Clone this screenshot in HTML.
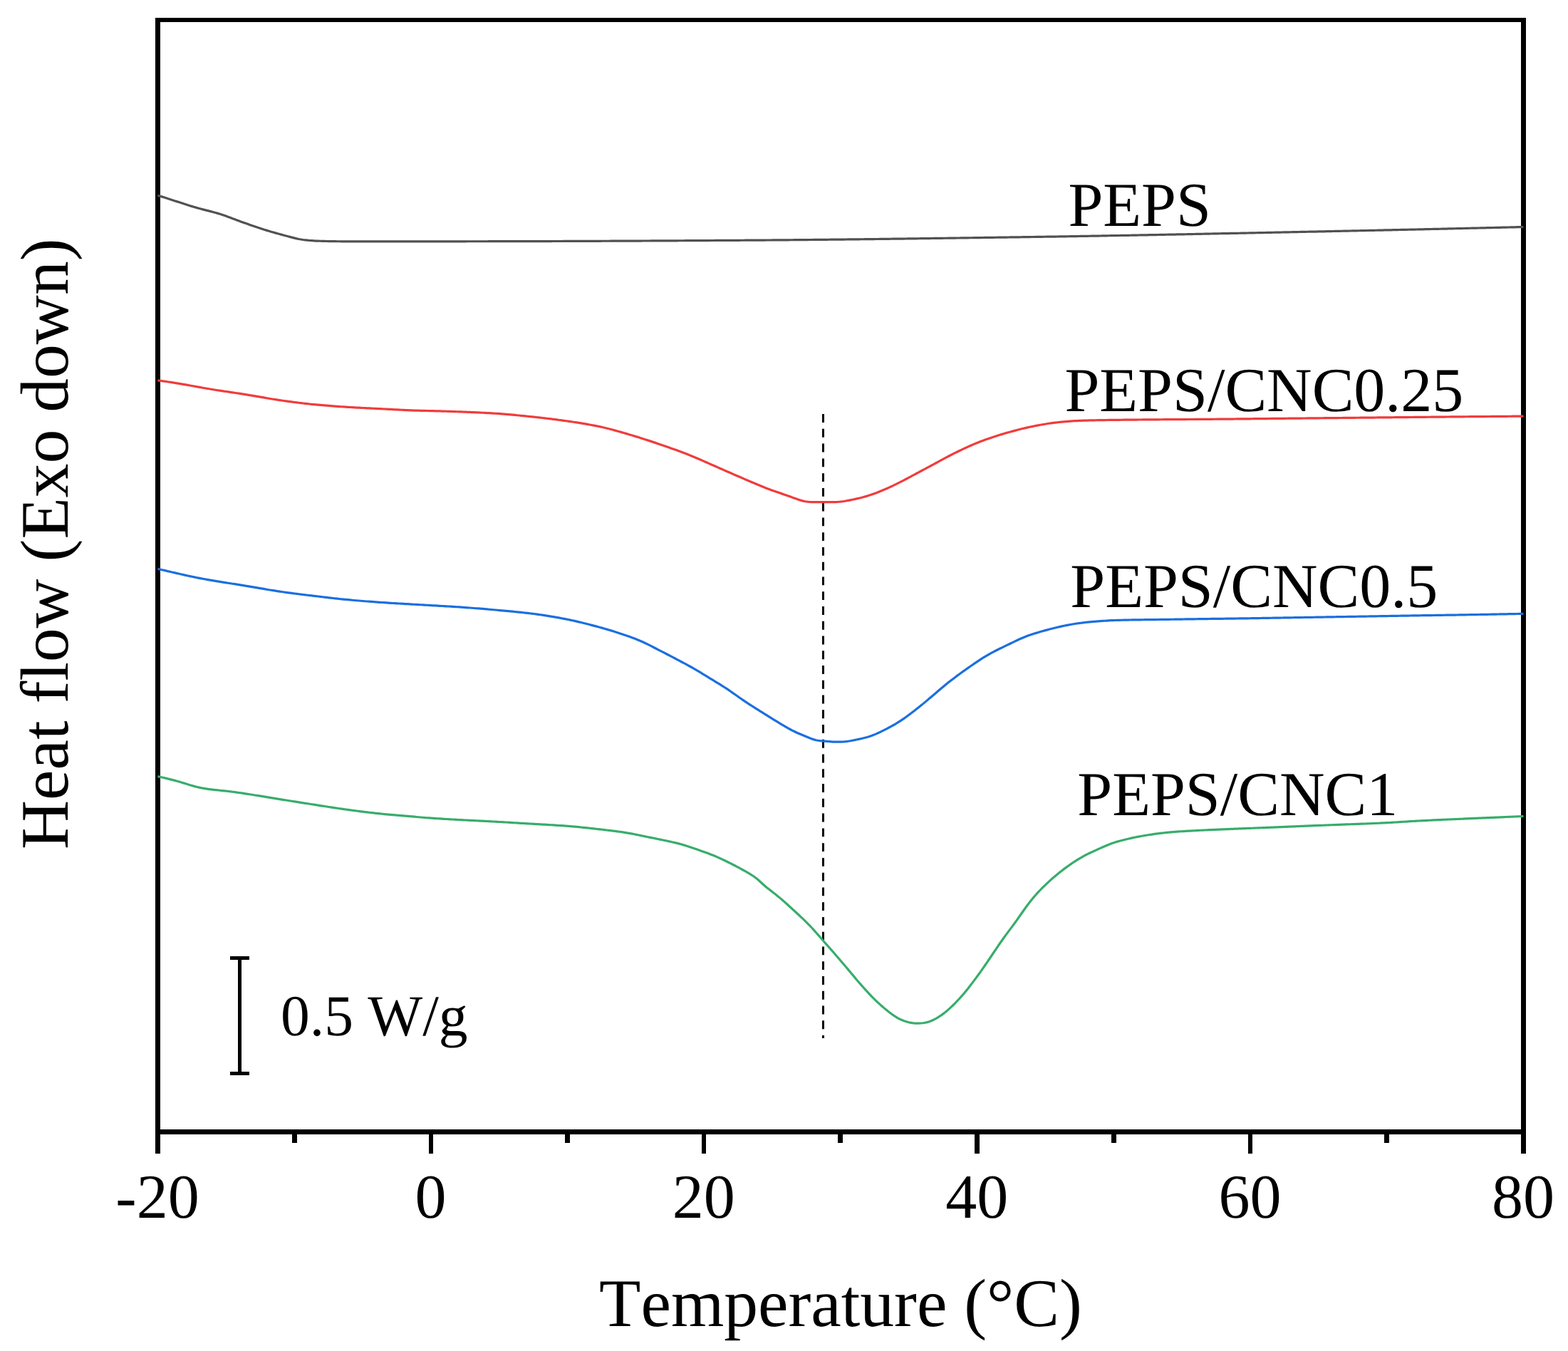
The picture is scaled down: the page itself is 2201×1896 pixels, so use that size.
<!DOCTYPE html>
<html lang="en">
<head>
<meta charset="utf-8">
<title>DSC heat flow curves</title>
<style>
html,body{margin:0;padding:0;background:#fff;}
body{width:2201px;height:1896px;overflow:hidden;}
svg{display:block;}
text{font-family:"Liberation Serif", "DejaVu Serif", serif;fill:#000;font-kerning:none;font-variant-ligatures:none;font-feature-settings:"kern" 0,"liga" 0,"clig" 0;text-rendering:geometricPrecision;}
.tick{font-size:88px;text-anchor:middle;}
.lab{font-size:88px;}
.axis{font-size:95.6px;text-anchor:middle;}
.scale{font-size:81.5px;}
</style>
</head>
<body>
<svg xmlns="http://www.w3.org/2000/svg" width="2201" height="1896" viewBox="0 0 2201 1896">
<rect x="0" y="0" width="2201" height="1896" fill="#ffffff"/>
<g fill="#000" shape-rendering="crispEdges">
<rect x="218" y="25" width="7" height="1567"/>
<rect x="2135" y="25" width="7" height="1567"/>
<rect x="218" y="25" width="1924" height="6"/>
<rect x="218" y="1585" width="1924" height="7"/>
<rect x="218" y="1590" width="7" height="29"/>
<rect x="410" y="1590" width="7" height="14"/>
<rect x="602" y="1590" width="6" height="29"/>
<rect x="793" y="1590" width="7" height="14"/>
<rect x="985" y="1590" width="6" height="29"/>
<rect x="1176" y="1590" width="7" height="14"/>
<rect x="1368" y="1590" width="7" height="29"/>
<rect x="1560" y="1590" width="7" height="14"/>
<rect x="1752" y="1590" width="6" height="29"/>
<rect x="1943" y="1590" width="7" height="14"/>
<rect x="2135" y="1590" width="7" height="29"/>
<rect x="334" y="1342" width="5" height="167"/>
<rect x="323" y="1342" width="27" height="5"/>
<rect x="323" y="1504" width="27" height="5"/>
</g>
<line x1="1155.5" y1="581.1" x2="1155.5" y2="1457" stroke="#000" stroke-width="3" stroke-dasharray="11.9 8.86"/>
<path d="M221.5,274.20 L224.5,275.17 L227.5,276.13 L230.5,277.10 L233.5,278.07 L236.5,279.03 L239.5,279.99 L242.5,280.95 L245.5,281.91 L248.5,282.87 L251.5,283.84 L254.5,284.81 L257.5,285.78 L260.5,286.75 L263.5,287.72 L266.5,288.67 L269.5,289.60 L272.5,290.51 L275.5,291.39 L278.5,292.24 L281.5,293.05 L284.5,293.83 L287.5,294.60 L290.5,295.35 L293.5,296.11 L296.5,296.88 L299.5,297.68 L302.5,298.51 L305.5,299.38 L308.5,300.31 L311.5,301.28 L314.5,302.30 L317.5,303.36 L320.5,304.44 L323.5,305.55 L326.5,306.67 L329.5,307.80 L332.5,308.93 L335.5,310.05 L338.5,311.16 L341.5,312.25 L344.5,313.31 L347.5,314.36 L350.5,315.41 L353.5,316.44 L356.5,317.47 L359.5,318.49 L362.5,319.50 L365.5,320.49 L368.5,321.47 L371.5,322.43 L374.5,323.37 L377.5,324.28 L380.5,325.17 L383.5,326.05 L386.5,326.90 L389.5,327.74 L392.5,328.57 L395.5,329.38 L398.5,330.19 L401.5,330.99 L404.5,331.79 L407.5,332.60 L410.5,333.40 L413.5,334.16 L416.5,334.87 L419.5,335.49 L422.5,336.02 L425.5,336.47 L428.5,336.85 L431.5,337.19 L434.5,337.47 L437.5,337.70 L440.5,337.89 L443.5,338.03 L446.5,338.15 L449.5,338.25 L452.5,338.34 L455.5,338.42 L458.5,338.49 L461.5,338.56 L464.5,338.62 L467.5,338.67 L470.5,338.71 L473.5,338.74 L476.5,338.77 L479.5,338.79 L482.5,338.80 L485.5,338.82 L488.5,338.83 L491.5,338.84 L494.5,338.85 L497.5,338.85 L500.5,338.86 L503.5,338.87 L506.5,338.88 L509.5,338.88 L512.5,338.89 L515.5,338.89 L518.5,338.89 L521.5,338.90 L524.5,338.90 L527.5,338.90 L530.5,338.90 L533.5,338.90 L536.5,338.90 L539.5,338.90 L542.5,338.90 L545.5,338.90 L548.5,338.90 L551.5,338.90 L554.5,338.89 L557.5,338.89 L560.5,338.89 L563.5,338.89 L566.5,338.89 L569.5,338.88 L572.5,338.88 L575.5,338.88 L578.5,338.88 L581.5,338.87 L584.5,338.87 L587.5,338.87 L590.5,338.87 L593.5,338.86 L596.5,338.86 L599.5,338.86 L602.5,338.85 L605.5,338.85 L608.5,338.85 L611.5,338.84 L614.5,338.84 L617.5,338.83 L620.5,338.83 L623.5,338.83 L626.5,338.82 L629.5,338.82 L632.5,338.81 L635.5,338.81 L638.5,338.80 L641.5,338.80 L644.5,338.79 L647.5,338.79 L650.5,338.78 L653.5,338.78 L656.5,338.77 L659.5,338.77 L662.5,338.76 L665.5,338.76 L668.5,338.75 L671.5,338.75 L674.5,338.74 L677.5,338.74 L680.5,338.73 L683.5,338.73 L686.5,338.72 L689.5,338.72 L692.5,338.71 L695.5,338.71 L698.5,338.70 L701.5,338.70 L704.5,338.69 L707.5,338.69 L710.5,338.68 L713.5,338.67 L716.5,338.67 L719.5,338.66 L722.5,338.66 L725.5,338.65 L728.5,338.64 L731.5,338.64 L734.5,338.63 L737.5,338.62 L740.5,338.62 L743.5,338.61 L746.5,338.60 L749.5,338.59 L752.5,338.58 L755.5,338.58 L758.5,338.57 L761.5,338.56 L764.5,338.55 L767.5,338.54 L770.5,338.53 L773.5,338.53 L776.5,338.52 L779.5,338.51 L782.5,338.50 L785.5,338.49 L788.5,338.48 L791.5,338.47 L794.5,338.46 L797.5,338.45 L800.5,338.44 L803.5,338.43 L806.5,338.42 L809.5,338.41 L812.5,338.40 L815.5,338.39 L818.5,338.38 L821.5,338.36 L824.5,338.35 L827.5,338.34 L830.5,338.33 L833.5,338.32 L836.5,338.31 L839.5,338.30 L842.5,338.28 L845.5,338.27 L848.5,338.26 L851.5,338.25 L854.5,338.23 L857.5,338.22 L860.5,338.21 L863.5,338.20 L866.5,338.18 L869.5,338.17 L872.5,338.16 L875.5,338.14 L878.5,338.13 L881.5,338.12 L884.5,338.10 L887.5,338.09 L890.5,338.08 L893.5,338.06 L896.5,338.05 L899.5,338.03 L902.5,338.02 L905.5,338.00 L908.5,337.99 L911.5,337.98 L914.5,337.96 L917.5,337.95 L920.5,337.93 L923.5,337.92 L926.5,337.90 L929.5,337.89 L932.5,337.87 L935.5,337.86 L938.5,337.84 L941.5,337.82 L944.5,337.81 L947.5,337.79 L950.5,337.78 L953.5,337.76 L956.5,337.74 L959.5,337.73 L962.5,337.71 L965.5,337.70 L968.5,337.68 L971.5,337.66 L974.5,337.65 L977.5,337.63 L980.5,337.61 L983.5,337.60 L986.5,337.58 L989.5,337.56 L992.5,337.54 L995.5,337.53 L998.5,337.51 L1001.5,337.49 L1004.5,337.47 L1007.5,337.46 L1010.5,337.44 L1013.5,337.42 L1016.5,337.40 L1019.5,337.39 L1022.5,337.37 L1025.5,337.35 L1028.5,337.33 L1031.5,337.31 L1034.5,337.30 L1037.5,337.28 L1040.5,337.26 L1043.5,337.24 L1046.5,337.22 L1049.5,337.20 L1052.5,337.18 L1055.5,337.16 L1058.5,337.15 L1061.5,337.13 L1064.5,337.11 L1067.5,337.08 L1070.5,337.06 L1073.5,337.04 L1076.5,337.02 L1079.5,337.00 L1082.5,336.98 L1085.5,336.95 L1088.5,336.93 L1091.5,336.91 L1094.5,336.88 L1097.5,336.86 L1100.5,336.83 L1103.5,336.81 L1106.5,336.78 L1109.5,336.76 L1112.5,336.73 L1115.5,336.71 L1118.5,336.68 L1121.5,336.65 L1124.5,336.63 L1127.5,336.60 L1130.5,336.57 L1133.5,336.55 L1136.5,336.52 L1139.5,336.49 L1142.5,336.46 L1145.5,336.43 L1148.5,336.40 L1151.5,336.37 L1154.5,336.34 L1157.5,336.31 L1160.5,336.28 L1163.5,336.25 L1166.5,336.22 L1169.5,336.19 L1172.5,336.16 L1175.5,336.13 L1178.5,336.09 L1181.5,336.06 L1184.5,336.03 L1187.5,336.00 L1190.5,335.96 L1193.5,335.93 L1196.5,335.90 L1199.5,335.86 L1202.5,335.83 L1205.5,335.79 L1208.5,335.76 L1211.5,335.73 L1214.5,335.69 L1217.5,335.66 L1220.5,335.62 L1223.5,335.58 L1226.5,335.55 L1229.5,335.51 L1232.5,335.48 L1235.5,335.44 L1238.5,335.40 L1241.5,335.37 L1244.5,335.33 L1247.5,335.29 L1250.5,335.26 L1253.5,335.22 L1256.5,335.18 L1259.5,335.14 L1262.5,335.10 L1265.5,335.07 L1268.5,335.03 L1271.5,334.99 L1274.5,334.95 L1277.5,334.91 L1280.5,334.87 L1283.5,334.83 L1286.5,334.79 L1289.5,334.76 L1292.5,334.72 L1295.5,334.68 L1298.5,334.64 L1301.5,334.60 L1304.5,334.56 L1307.5,334.52 L1310.5,334.47 L1313.5,334.43 L1316.5,334.39 L1319.5,334.35 L1322.5,334.31 L1325.5,334.27 L1328.5,334.23 L1331.5,334.19 L1334.5,334.15 L1337.5,334.11 L1340.5,334.06 L1343.5,334.02 L1346.5,333.98 L1349.5,333.94 L1352.5,333.90 L1355.5,333.85 L1358.5,333.81 L1361.5,333.77 L1364.5,333.73 L1367.5,333.69 L1370.5,333.64 L1373.5,333.60 L1376.5,333.56 L1379.5,333.51 L1382.5,333.47 L1385.5,333.43 L1388.5,333.39 L1391.5,333.34 L1394.5,333.30 L1397.5,333.26 L1400.5,333.21 L1403.5,333.17 L1406.5,333.13 L1409.5,333.09 L1412.5,333.04 L1415.5,333.00 L1418.5,332.96 L1421.5,332.91 L1424.5,332.87 L1427.5,332.83 L1430.5,332.78 L1433.5,332.74 L1436.5,332.70 L1439.5,332.65 L1442.5,332.61 L1445.5,332.57 L1448.5,332.52 L1451.5,332.48 L1454.5,332.43 L1457.5,332.39 L1460.5,332.35 L1463.5,332.30 L1466.5,332.26 L1469.5,332.21 L1472.5,332.16 L1475.5,332.12 L1478.5,332.07 L1481.5,332.03 L1484.5,331.98 L1487.5,331.93 L1490.5,331.88 L1493.5,331.84 L1496.5,331.79 L1499.5,331.74 L1502.5,331.69 L1505.5,331.64 L1508.5,331.59 L1511.5,331.54 L1514.5,331.49 L1517.5,331.44 L1520.5,331.39 L1523.5,331.34 L1526.5,331.29 L1529.5,331.24 L1532.5,331.19 L1535.5,331.14 L1538.5,331.09 L1541.5,331.03 L1544.5,330.98 L1547.5,330.93 L1550.5,330.88 L1553.5,330.82 L1556.5,330.77 L1559.5,330.72 L1562.5,330.66 L1565.5,330.61 L1568.5,330.56 L1571.5,330.50 L1574.5,330.45 L1577.5,330.39 L1580.5,330.34 L1583.5,330.28 L1586.5,330.23 L1589.5,330.17 L1592.5,330.12 L1595.5,330.06 L1598.5,330.00 L1601.5,329.95 L1604.5,329.89 L1607.5,329.83 L1610.5,329.78 L1613.5,329.72 L1616.5,329.66 L1619.5,329.61 L1622.5,329.55 L1625.5,329.49 L1628.5,329.43 L1631.5,329.38 L1634.5,329.32 L1637.5,329.26 L1640.5,329.20 L1643.5,329.14 L1646.5,329.09 L1649.5,329.03 L1652.5,328.97 L1655.5,328.91 L1658.5,328.85 L1661.5,328.79 L1664.5,328.73 L1667.5,328.67 L1670.5,328.61 L1673.5,328.55 L1676.5,328.49 L1679.5,328.43 L1682.5,328.37 L1685.5,328.32 L1688.5,328.26 L1691.5,328.20 L1694.5,328.14 L1697.5,328.07 L1700.5,328.01 L1703.5,327.95 L1706.5,327.89 L1709.5,327.83 L1712.5,327.77 L1715.5,327.71 L1718.5,327.65 L1721.5,327.59 L1724.5,327.53 L1727.5,327.47 L1730.5,327.41 L1733.5,327.35 L1736.5,327.29 L1739.5,327.23 L1742.5,327.17 L1745.5,327.11 L1748.5,327.04 L1751.5,326.98 L1754.5,326.92 L1757.5,326.86 L1760.5,326.80 L1763.5,326.74 L1766.5,326.68 L1769.5,326.62 L1772.5,326.56 L1775.5,326.50 L1778.5,326.44 L1781.5,326.37 L1784.5,326.31 L1787.5,326.25 L1790.5,326.19 L1793.5,326.13 L1796.5,326.07 L1799.5,326.01 L1802.5,325.95 L1805.5,325.89 L1808.5,325.83 L1811.5,325.77 L1814.5,325.71 L1817.5,325.64 L1820.5,325.58 L1823.5,325.52 L1826.5,325.46 L1829.5,325.40 L1832.5,325.34 L1835.5,325.27 L1838.5,325.21 L1841.5,325.15 L1844.5,325.09 L1847.5,325.03 L1850.5,324.96 L1853.5,324.90 L1856.5,324.84 L1859.5,324.78 L1862.5,324.71 L1865.5,324.65 L1868.5,324.59 L1871.5,324.52 L1874.5,324.46 L1877.5,324.40 L1880.5,324.33 L1883.5,324.27 L1886.5,324.21 L1889.5,324.14 L1892.5,324.08 L1895.5,324.01 L1898.5,323.95 L1901.5,323.89 L1904.5,323.82 L1907.5,323.76 L1910.5,323.69 L1913.5,323.63 L1916.5,323.56 L1919.5,323.50 L1922.5,323.43 L1925.5,323.37 L1928.5,323.30 L1931.5,323.24 L1934.5,323.17 L1937.5,323.11 L1940.5,323.04 L1943.5,322.97 L1946.5,322.91 L1949.5,322.84 L1952.5,322.78 L1955.5,322.71 L1958.5,322.64 L1961.5,322.58 L1964.5,322.51 L1967.5,322.45 L1970.5,322.38 L1973.5,322.31 L1976.5,322.25 L1979.5,322.18 L1982.5,322.11 L1985.5,322.04 L1988.5,321.98 L1991.5,321.91 L1994.5,321.84 L1997.5,321.78 L2000.5,321.71 L2003.5,321.64 L2006.5,321.57 L2009.5,321.50 L2012.5,321.44 L2015.5,321.37 L2018.5,321.30 L2021.5,321.23 L2024.5,321.16 L2027.5,321.10 L2030.5,321.03 L2033.5,320.96 L2036.5,320.89 L2039.5,320.82 L2042.5,320.75 L2045.5,320.68 L2048.5,320.61 L2051.5,320.54 L2054.5,320.48 L2057.5,320.41 L2060.5,320.34 L2063.5,320.27 L2066.5,320.20 L2069.5,320.13 L2072.5,320.06 L2075.5,319.99 L2078.5,319.92 L2081.5,319.85 L2084.5,319.78 L2087.5,319.71 L2090.5,319.64 L2093.5,319.57 L2096.5,319.50 L2099.5,319.43 L2102.5,319.35 L2105.5,319.28 L2108.5,319.21 L2111.5,319.14 L2114.5,319.07 L2117.5,319.00 L2120.5,318.93 L2123.5,318.86 L2126.5,318.79 L2129.5,318.71 L2132.5,318.64 L2135.5,318.57 L2138.5,318.50" fill="none" stroke="#515151" stroke-width="3.2" stroke-linejoin="round" stroke-linecap="butt"/>
<path d="M221.5,533.80 L224.5,534.23 L227.5,534.66 L230.5,535.09 L233.5,535.53 L236.5,535.98 L239.5,536.43 L242.5,536.90 L245.5,537.37 L248.5,537.85 L251.5,538.34 L254.5,538.84 L257.5,539.36 L260.5,539.89 L263.5,540.42 L266.5,540.96 L269.5,541.51 L272.5,542.05 L275.5,542.60 L278.5,543.15 L281.5,543.69 L284.5,544.23 L287.5,544.76 L290.5,545.28 L293.5,545.79 L296.5,546.28 L299.5,546.77 L302.5,547.24 L305.5,547.71 L308.5,548.17 L311.5,548.62 L314.5,549.07 L317.5,549.51 L320.5,549.95 L323.5,550.39 L326.5,550.83 L329.5,551.27 L332.5,551.72 L335.5,552.17 L338.5,552.63 L341.5,553.09 L344.5,553.57 L347.5,554.05 L350.5,554.55 L353.5,555.05 L356.5,555.57 L359.5,556.09 L362.5,556.61 L365.5,557.14 L368.5,557.66 L371.5,558.19 L374.5,558.71 L377.5,559.22 L380.5,559.72 L383.5,560.21 L386.5,560.69 L389.5,561.15 L392.5,561.60 L395.5,562.03 L398.5,562.46 L401.5,562.88 L404.5,563.29 L407.5,563.70 L410.5,564.11 L413.5,564.50 L416.5,564.89 L419.5,565.27 L422.5,565.63 L425.5,565.99 L428.5,566.34 L431.5,566.68 L434.5,567.00 L437.5,567.31 L440.5,567.61 L443.5,567.89 L446.5,568.17 L449.5,568.44 L452.5,568.70 L455.5,568.95 L458.5,569.20 L461.5,569.44 L464.5,569.67 L467.5,569.89 L470.5,570.12 L473.5,570.33 L476.5,570.54 L479.5,570.74 L482.5,570.94 L485.5,571.14 L488.5,571.32 L491.5,571.51 L494.5,571.69 L497.5,571.86 L500.5,572.03 L503.5,572.19 L506.5,572.35 L509.5,572.51 L512.5,572.66 L515.5,572.81 L518.5,572.96 L521.5,573.11 L524.5,573.25 L527.5,573.40 L530.5,573.54 L533.5,573.69 L536.5,573.84 L539.5,573.99 L542.5,574.14 L545.5,574.30 L548.5,574.46 L551.5,574.62 L554.5,574.78 L557.5,574.94 L560.5,575.10 L563.5,575.26 L566.5,575.41 L569.5,575.55 L572.5,575.69 L575.5,575.81 L578.5,575.93 L581.5,576.04 L584.5,576.14 L587.5,576.22 L590.5,576.29 L593.5,576.36 L596.5,576.43 L599.5,576.50 L602.5,576.57 L605.5,576.64 L608.5,576.72 L611.5,576.80 L614.5,576.89 L617.5,576.97 L620.5,577.06 L623.5,577.15 L626.5,577.25 L629.5,577.34 L632.5,577.44 L635.5,577.54 L638.5,577.65 L641.5,577.75 L644.5,577.86 L647.5,577.97 L650.5,578.09 L653.5,578.20 L656.5,578.32 L659.5,578.44 L662.5,578.57 L665.5,578.70 L668.5,578.83 L671.5,578.96 L674.5,579.11 L677.5,579.25 L680.5,579.40 L683.5,579.56 L686.5,579.72 L689.5,579.89 L692.5,580.07 L695.5,580.25 L698.5,580.45 L701.5,580.65 L704.5,580.88 L707.5,581.11 L710.5,581.35 L713.5,581.61 L716.5,581.88 L719.5,582.16 L722.5,582.44 L725.5,582.73 L728.5,583.03 L731.5,583.33 L734.5,583.64 L737.5,583.94 L740.5,584.26 L743.5,584.57 L746.5,584.88 L749.5,585.20 L752.5,585.52 L755.5,585.85 L758.5,586.18 L761.5,586.52 L764.5,586.87 L767.5,587.22 L770.5,587.58 L773.5,587.94 L776.5,588.31 L779.5,588.69 L782.5,589.08 L785.5,589.47 L788.5,589.88 L791.5,590.29 L794.5,590.71 L797.5,591.13 L800.5,591.57 L803.5,592.01 L806.5,592.46 L809.5,592.93 L812.5,593.40 L815.5,593.88 L818.5,594.38 L821.5,594.89 L824.5,595.41 L827.5,595.95 L830.5,596.50 L833.5,597.07 L836.5,597.65 L839.5,598.26 L842.5,598.89 L845.5,599.55 L848.5,600.24 L851.5,600.96 L854.5,601.70 L857.5,602.48 L860.5,603.27 L863.5,604.09 L866.5,604.92 L869.5,605.77 L872.5,606.64 L875.5,607.51 L878.5,608.40 L881.5,609.29 L884.5,610.18 L887.5,611.08 L890.5,611.98 L893.5,612.89 L896.5,613.82 L899.5,614.75 L902.5,615.70 L905.5,616.67 L908.5,617.64 L911.5,618.63 L914.5,619.63 L917.5,620.63 L920.5,621.64 L923.5,622.67 L926.5,623.69 L929.5,624.73 L932.5,625.76 L935.5,626.80 L938.5,627.85 L941.5,628.90 L944.5,629.96 L947.5,631.02 L950.5,632.10 L953.5,633.18 L956.5,634.29 L959.5,635.41 L962.5,636.56 L965.5,637.73 L968.5,638.92 L971.5,640.15 L974.5,641.40 L977.5,642.68 L980.5,643.98 L983.5,645.29 L986.5,646.62 L989.5,647.95 L992.5,649.28 L995.5,650.61 L998.5,651.93 L1001.5,653.25 L1004.5,654.57 L1007.5,655.89 L1010.5,657.21 L1013.5,658.53 L1016.5,659.85 L1019.5,661.17 L1022.5,662.49 L1025.5,663.81 L1028.5,665.12 L1031.5,666.42 L1034.5,667.73 L1037.5,669.02 L1040.5,670.32 L1043.5,671.62 L1046.5,672.91 L1049.5,674.21 L1052.5,675.50 L1055.5,676.79 L1058.5,678.07 L1061.5,679.34 L1064.5,680.60 L1067.5,681.83 L1070.5,683.04 L1073.5,684.23 L1076.5,685.39 L1079.5,686.52 L1082.5,687.63 L1085.5,688.71 L1088.5,689.77 L1091.5,690.81 L1094.5,691.84 L1097.5,692.87 L1100.5,693.90 L1103.5,694.93 L1106.5,695.98 L1109.5,697.06 L1112.5,698.16 L1115.5,699.27 L1118.5,700.36 L1121.5,701.40 L1124.5,702.33 L1127.5,703.12 L1130.5,703.75 L1133.5,704.18 L1136.5,704.43 L1139.5,704.54 L1142.5,704.59 L1145.5,704.60 L1148.5,704.60 L1151.5,704.60 L1154.5,704.60 L1157.5,704.60 L1160.5,704.60 L1163.5,704.60 L1166.5,704.60 L1169.5,704.59 L1172.5,704.55 L1175.5,704.46 L1178.5,704.27 L1181.5,703.96 L1184.5,703.53 L1187.5,703.00 L1190.5,702.43 L1193.5,701.83 L1196.5,701.21 L1199.5,700.58 L1202.5,699.92 L1205.5,699.23 L1208.5,698.50 L1211.5,697.73 L1214.5,696.90 L1217.5,696.03 L1220.5,695.09 L1223.5,694.09 L1226.5,693.02 L1229.5,691.91 L1232.5,690.75 L1235.5,689.55 L1238.5,688.32 L1241.5,687.06 L1244.5,685.75 L1247.5,684.40 L1250.5,683.01 L1253.5,681.59 L1256.5,680.14 L1259.5,678.66 L1262.5,677.16 L1265.5,675.64 L1268.5,674.09 L1271.5,672.52 L1274.5,670.92 L1277.5,669.31 L1280.5,667.70 L1283.5,666.09 L1286.5,664.48 L1289.5,662.87 L1292.5,661.27 L1295.5,659.67 L1298.5,658.06 L1301.5,656.46 L1304.5,654.85 L1307.5,653.24 L1310.5,651.62 L1313.5,650.00 L1316.5,648.36 L1319.5,646.72 L1322.5,645.09 L1325.5,643.46 L1328.5,641.85 L1331.5,640.27 L1334.5,638.71 L1337.5,637.19 L1340.5,635.69 L1343.5,634.22 L1346.5,632.76 L1349.5,631.32 L1352.5,629.90 L1355.5,628.49 L1358.5,627.11 L1361.5,625.76 L1364.5,624.44 L1367.5,623.15 L1370.5,621.90 L1373.5,620.69 L1376.5,619.52 L1379.5,618.38 L1382.5,617.28 L1385.5,616.21 L1388.5,615.16 L1391.5,614.14 L1394.5,613.15 L1397.5,612.18 L1400.5,611.23 L1403.5,610.30 L1406.5,609.40 L1409.5,608.51 L1412.5,607.65 L1415.5,606.80 L1418.5,605.98 L1421.5,605.16 L1424.5,604.36 L1427.5,603.57 L1430.5,602.80 L1433.5,602.05 L1436.5,601.32 L1439.5,600.61 L1442.5,599.92 L1445.5,599.25 L1448.5,598.61 L1451.5,598.00 L1454.5,597.41 L1457.5,596.84 L1460.5,596.28 L1463.5,595.75 L1466.5,595.23 L1469.5,594.74 L1472.5,594.27 L1475.5,593.83 L1478.5,593.43 L1481.5,593.06 L1484.5,592.72 L1487.5,592.40 L1490.5,592.10 L1493.5,591.82 L1496.5,591.56 L1499.5,591.32 L1502.5,591.09 L1505.5,590.90 L1508.5,590.72 L1511.5,590.57 L1514.5,590.44 L1517.5,590.32 L1520.5,590.22 L1523.5,590.12 L1526.5,590.04 L1529.5,589.96 L1532.5,589.88 L1535.5,589.82 L1538.5,589.76 L1541.5,589.70 L1544.5,589.65 L1547.5,589.60 L1550.5,589.55 L1553.5,589.51 L1556.5,589.47 L1559.5,589.43 L1562.5,589.39 L1565.5,589.35 L1568.5,589.32 L1571.5,589.29 L1574.5,589.25 L1577.5,589.22 L1580.5,589.19 L1583.5,589.16 L1586.5,589.13 L1589.5,589.10 L1592.5,589.07 L1595.5,589.04 L1598.5,589.02 L1601.5,588.99 L1604.5,588.96 L1607.5,588.94 L1610.5,588.91 L1613.5,588.89 L1616.5,588.86 L1619.5,588.84 L1622.5,588.81 L1625.5,588.79 L1628.5,588.77 L1631.5,588.75 L1634.5,588.72 L1637.5,588.70 L1640.5,588.68 L1643.5,588.66 L1646.5,588.64 L1649.5,588.62 L1652.5,588.60 L1655.5,588.58 L1658.5,588.57 L1661.5,588.55 L1664.5,588.53 L1667.5,588.51 L1670.5,588.49 L1673.5,588.48 L1676.5,588.46 L1679.5,588.44 L1682.5,588.42 L1685.5,588.40 L1688.5,588.38 L1691.5,588.36 L1694.5,588.34 L1697.5,588.32 L1700.5,588.30 L1703.5,588.27 L1706.5,588.25 L1709.5,588.22 L1712.5,588.20 L1715.5,588.17 L1718.5,588.14 L1721.5,588.12 L1724.5,588.09 L1727.5,588.06 L1730.5,588.03 L1733.5,588.00 L1736.5,587.97 L1739.5,587.94 L1742.5,587.91 L1745.5,587.88 L1748.5,587.85 L1751.5,587.82 L1754.5,587.78 L1757.5,587.75 L1760.5,587.72 L1763.5,587.69 L1766.5,587.66 L1769.5,587.63 L1772.5,587.59 L1775.5,587.56 L1778.5,587.53 L1781.5,587.50 L1784.5,587.47 L1787.5,587.43 L1790.5,587.40 L1793.5,587.37 L1796.5,587.34 L1799.5,587.31 L1802.5,587.28 L1805.5,587.25 L1808.5,587.22 L1811.5,587.19 L1814.5,587.16 L1817.5,587.13 L1820.5,587.10 L1823.5,587.07 L1826.5,587.04 L1829.5,587.01 L1832.5,586.98 L1835.5,586.95 L1838.5,586.92 L1841.5,586.89 L1844.5,586.86 L1847.5,586.83 L1850.5,586.80 L1853.5,586.77 L1856.5,586.74 L1859.5,586.72 L1862.5,586.69 L1865.5,586.66 L1868.5,586.63 L1871.5,586.60 L1874.5,586.57 L1877.5,586.54 L1880.5,586.51 L1883.5,586.48 L1886.5,586.45 L1889.5,586.42 L1892.5,586.39 L1895.5,586.36 L1898.5,586.33 L1901.5,586.30 L1904.5,586.27 L1907.5,586.24 L1910.5,586.21 L1913.5,586.18 L1916.5,586.15 L1919.5,586.12 L1922.5,586.09 L1925.5,586.06 L1928.5,586.03 L1931.5,586.00 L1934.5,585.97 L1937.5,585.94 L1940.5,585.91 L1943.5,585.88 L1946.5,585.85 L1949.5,585.81 L1952.5,585.78 L1955.5,585.75 L1958.5,585.72 L1961.5,585.69 L1964.5,585.66 L1967.5,585.63 L1970.5,585.60 L1973.5,585.57 L1976.5,585.54 L1979.5,585.51 L1982.5,585.48 L1985.5,585.45 L1988.5,585.42 L1991.5,585.39 L1994.5,585.36 L1997.5,585.33 L2000.5,585.30 L2003.5,585.27 L2006.5,585.24 L2009.5,585.21 L2012.5,585.18 L2015.5,585.15 L2018.5,585.12 L2021.5,585.09 L2024.5,585.06 L2027.5,585.03 L2030.5,585.01 L2033.5,584.98 L2036.5,584.95 L2039.5,584.92 L2042.5,584.90 L2045.5,584.87 L2048.5,584.84 L2051.5,584.82 L2054.5,584.79 L2057.5,584.76 L2060.5,584.74 L2063.5,584.71 L2066.5,584.68 L2069.5,584.66 L2072.5,584.63 L2075.5,584.61 L2078.5,584.58 L2081.5,584.56 L2084.5,584.53 L2087.5,584.51 L2090.5,584.48 L2093.5,584.46 L2096.5,584.43 L2099.5,584.41 L2102.5,584.38 L2105.5,584.36 L2108.5,584.33 L2111.5,584.31 L2114.5,584.29 L2117.5,584.26 L2120.5,584.24 L2123.5,584.22 L2126.5,584.19 L2129.5,584.17 L2132.5,584.15 L2135.5,584.12 L2138.5,584.10" fill="none" stroke="#f03c3c" stroke-width="3.2" stroke-linejoin="round" stroke-linecap="butt"/>
<path d="M221.5,798.30 L224.5,799.01 L227.5,799.72 L230.5,800.43 L233.5,801.13 L236.5,801.83 L239.5,802.53 L242.5,803.22 L245.5,803.92 L248.5,804.61 L251.5,805.30 L254.5,805.98 L257.5,806.66 L260.5,807.34 L263.5,808.00 L266.5,808.65 L269.5,809.28 L272.5,809.89 L275.5,810.49 L278.5,811.08 L281.5,811.66 L284.5,812.22 L287.5,812.78 L290.5,813.32 L293.5,813.86 L296.5,814.39 L299.5,814.90 L302.5,815.41 L305.5,815.91 L308.5,816.39 L311.5,816.88 L314.5,817.35 L317.5,817.82 L320.5,818.29 L323.5,818.75 L326.5,819.22 L329.5,819.68 L332.5,820.15 L335.5,820.62 L338.5,821.10 L341.5,821.58 L344.5,822.06 L347.5,822.56 L350.5,823.06 L353.5,823.57 L356.5,824.09 L359.5,824.61 L362.5,825.13 L365.5,825.65 L368.5,826.18 L371.5,826.69 L374.5,827.21 L377.5,827.72 L380.5,828.21 L383.5,828.70 L386.5,829.18 L389.5,829.64 L392.5,830.09 L395.5,830.53 L398.5,830.96 L401.5,831.38 L404.5,831.79 L407.5,832.19 L410.5,832.59 L413.5,832.98 L416.5,833.36 L419.5,833.74 L422.5,834.12 L425.5,834.49 L428.5,834.85 L431.5,835.22 L434.5,835.58 L437.5,835.94 L440.5,836.30 L443.5,836.66 L446.5,837.02 L449.5,837.38 L452.5,837.74 L455.5,838.10 L458.5,838.45 L461.5,838.80 L464.5,839.15 L467.5,839.49 L470.5,839.83 L473.5,840.16 L476.5,840.48 L479.5,840.79 L482.5,841.10 L485.5,841.40 L488.5,841.68 L491.5,841.96 L494.5,842.24 L497.5,842.50 L500.5,842.76 L503.5,843.01 L506.5,843.26 L509.5,843.51 L512.5,843.75 L515.5,843.98 L518.5,844.21 L521.5,844.44 L524.5,844.66 L527.5,844.87 L530.5,845.09 L533.5,845.30 L536.5,845.51 L539.5,845.71 L542.5,845.91 L545.5,846.10 L548.5,846.29 L551.5,846.48 L554.5,846.66 L557.5,846.84 L560.5,847.02 L563.5,847.20 L566.5,847.37 L569.5,847.54 L572.5,847.72 L575.5,847.89 L578.5,848.06 L581.5,848.23 L584.5,848.41 L587.5,848.58 L590.5,848.75 L593.5,848.93 L596.5,849.10 L599.5,849.27 L602.5,849.44 L605.5,849.62 L608.5,849.79 L611.5,849.96 L614.5,850.13 L617.5,850.31 L620.5,850.48 L623.5,850.65 L626.5,850.83 L629.5,851.01 L632.5,851.19 L635.5,851.37 L638.5,851.56 L641.5,851.75 L644.5,851.95 L647.5,852.15 L650.5,852.36 L653.5,852.57 L656.5,852.79 L659.5,853.02 L662.5,853.25 L665.5,853.48 L668.5,853.72 L671.5,853.96 L674.5,854.21 L677.5,854.46 L680.5,854.71 L683.5,854.96 L686.5,855.22 L689.5,855.48 L692.5,855.75 L695.5,856.01 L698.5,856.28 L701.5,856.55 L704.5,856.81 L707.5,857.08 L710.5,857.36 L713.5,857.63 L716.5,857.91 L719.5,858.20 L722.5,858.49 L725.5,858.79 L728.5,859.09 L731.5,859.40 L734.5,859.73 L737.5,860.06 L740.5,860.40 L743.5,860.76 L746.5,861.13 L749.5,861.51 L752.5,861.91 L755.5,862.33 L758.5,862.75 L761.5,863.19 L764.5,863.65 L767.5,864.12 L770.5,864.60 L773.5,865.09 L776.5,865.60 L779.5,866.12 L782.5,866.65 L785.5,867.19 L788.5,867.75 L791.5,868.32 L794.5,868.90 L797.5,869.50 L800.5,870.12 L803.5,870.77 L806.5,871.43 L809.5,872.12 L812.5,872.82 L815.5,873.54 L818.5,874.27 L821.5,875.02 L824.5,875.78 L827.5,876.55 L830.5,877.33 L833.5,878.12 L836.5,878.92 L839.5,879.73 L842.5,880.54 L845.5,881.38 L848.5,882.22 L851.5,883.09 L854.5,883.97 L857.5,884.87 L860.5,885.79 L863.5,886.73 L866.5,887.69 L869.5,888.66 L872.5,889.65 L875.5,890.66 L878.5,891.69 L881.5,892.74 L884.5,893.81 L887.5,894.91 L890.5,896.05 L893.5,897.23 L896.5,898.45 L899.5,899.72 L902.5,901.06 L905.5,902.45 L908.5,903.91 L911.5,905.41 L914.5,906.94 L917.5,908.48 L920.5,910.03 L923.5,911.58 L926.5,913.12 L929.5,914.65 L932.5,916.19 L935.5,917.74 L938.5,919.29 L941.5,920.85 L944.5,922.41 L947.5,923.99 L950.5,925.56 L953.5,927.15 L956.5,928.74 L959.5,930.34 L962.5,931.96 L965.5,933.59 L968.5,935.25 L971.5,936.94 L974.5,938.65 L977.5,940.40 L980.5,942.17 L983.5,943.97 L986.5,945.79 L989.5,947.62 L992.5,949.45 L995.5,951.28 L998.5,953.11 L1001.5,954.94 L1004.5,956.77 L1007.5,958.60 L1010.5,960.46 L1013.5,962.33 L1016.5,964.24 L1019.5,966.19 L1022.5,968.18 L1025.5,970.23 L1028.5,972.32 L1031.5,974.44 L1034.5,976.57 L1037.5,978.69 L1040.5,980.79 L1043.5,982.85 L1046.5,984.88 L1049.5,986.86 L1052.5,988.81 L1055.5,990.74 L1058.5,992.65 L1061.5,994.54 L1064.5,996.43 L1067.5,998.32 L1070.5,1000.21 L1073.5,1002.09 L1076.5,1003.97 L1079.5,1005.84 L1082.5,1007.71 L1085.5,1009.56 L1088.5,1011.40 L1091.5,1013.23 L1094.5,1015.05 L1097.5,1016.87 L1100.5,1018.66 L1103.5,1020.43 L1106.5,1022.14 L1109.5,1023.77 L1112.5,1025.32 L1115.5,1026.79 L1118.5,1028.18 L1121.5,1029.51 L1124.5,1030.79 L1127.5,1032.04 L1130.5,1033.27 L1133.5,1034.50 L1136.5,1035.72 L1139.5,1036.88 L1142.5,1037.91 L1145.5,1038.71 L1148.5,1039.27 L1151.5,1039.64 L1154.5,1039.90 L1157.5,1040.14 L1160.5,1040.38 L1163.5,1040.62 L1166.5,1040.86 L1169.5,1041.04 L1172.5,1041.16 L1175.5,1041.20 L1178.5,1041.17 L1181.5,1041.07 L1184.5,1040.89 L1187.5,1040.61 L1190.5,1040.23 L1193.5,1039.76 L1196.5,1039.22 L1199.5,1038.64 L1202.5,1038.03 L1205.5,1037.40 L1208.5,1036.73 L1211.5,1036.03 L1214.5,1035.27 L1217.5,1034.44 L1220.5,1033.53 L1223.5,1032.51 L1226.5,1031.37 L1229.5,1030.12 L1232.5,1028.77 L1235.5,1027.35 L1238.5,1025.88 L1241.5,1024.37 L1244.5,1022.85 L1247.5,1021.28 L1250.5,1019.67 L1253.5,1018.00 L1256.5,1016.27 L1259.5,1014.46 L1262.5,1012.58 L1265.5,1010.61 L1268.5,1008.56 L1271.5,1006.44 L1274.5,1004.26 L1277.5,1002.02 L1280.5,999.75 L1283.5,997.44 L1286.5,995.10 L1289.5,992.73 L1292.5,990.32 L1295.5,987.87 L1298.5,985.38 L1301.5,982.86 L1304.5,980.33 L1307.5,977.78 L1310.5,975.22 L1313.5,972.66 L1316.5,970.09 L1319.5,967.53 L1322.5,964.99 L1325.5,962.49 L1328.5,960.03 L1331.5,957.62 L1334.5,955.26 L1337.5,952.94 L1340.5,950.65 L1343.5,948.40 L1346.5,946.18 L1349.5,943.99 L1352.5,941.83 L1355.5,939.71 L1358.5,937.61 L1361.5,935.53 L1364.5,933.48 L1367.5,931.43 L1370.5,929.40 L1373.5,927.38 L1376.5,925.40 L1379.5,923.46 L1382.5,921.58 L1385.5,919.78 L1388.5,918.06 L1391.5,916.41 L1394.5,914.83 L1397.5,913.29 L1400.5,911.78 L1403.5,910.29 L1406.5,908.82 L1409.5,907.37 L1412.5,905.93 L1415.5,904.50 L1418.5,903.06 L1421.5,901.62 L1424.5,900.17 L1427.5,898.73 L1430.5,897.32 L1433.5,895.96 L1436.5,894.68 L1439.5,893.47 L1442.5,892.34 L1445.5,891.27 L1448.5,890.26 L1451.5,889.29 L1454.5,888.36 L1457.5,887.45 L1460.5,886.58 L1463.5,885.73 L1466.5,884.90 L1469.5,884.10 L1472.5,883.31 L1475.5,882.54 L1478.5,881.79 L1481.5,881.04 L1484.5,880.31 L1487.5,879.60 L1490.5,878.92 L1493.5,878.26 L1496.5,877.65 L1499.5,877.07 L1502.5,876.51 L1505.5,875.99 L1508.5,875.50 L1511.5,875.04 L1514.5,874.62 L1517.5,874.23 L1520.5,873.86 L1523.5,873.53 L1526.5,873.21 L1529.5,872.92 L1532.5,872.64 L1535.5,872.38 L1538.5,872.13 L1541.5,871.89 L1544.5,871.66 L1547.5,871.44 L1550.5,871.23 L1553.5,871.04 L1556.5,870.87 L1559.5,870.72 L1562.5,870.59 L1565.5,870.48 L1568.5,870.39 L1571.5,870.31 L1574.5,870.24 L1577.5,870.17 L1580.5,870.11 L1583.5,870.06 L1586.5,870.01 L1589.5,869.96 L1592.5,869.91 L1595.5,869.87 L1598.5,869.82 L1601.5,869.78 L1604.5,869.74 L1607.5,869.70 L1610.5,869.66 L1613.5,869.63 L1616.5,869.59 L1619.5,869.56 L1622.5,869.53 L1625.5,869.49 L1628.5,869.46 L1631.5,869.42 L1634.5,869.38 L1637.5,869.35 L1640.5,869.31 L1643.5,869.27 L1646.5,869.23 L1649.5,869.18 L1652.5,869.14 L1655.5,869.10 L1658.5,869.05 L1661.5,869.01 L1664.5,868.96 L1667.5,868.92 L1670.5,868.87 L1673.5,868.83 L1676.5,868.79 L1679.5,868.74 L1682.5,868.70 L1685.5,868.66 L1688.5,868.62 L1691.5,868.58 L1694.5,868.54 L1697.5,868.50 L1700.5,868.46 L1703.5,868.43 L1706.5,868.39 L1709.5,868.35 L1712.5,868.32 L1715.5,868.28 L1718.5,868.25 L1721.5,868.21 L1724.5,868.17 L1727.5,868.14 L1730.5,868.10 L1733.5,868.06 L1736.5,868.02 L1739.5,867.97 L1742.5,867.93 L1745.5,867.88 L1748.5,867.83 L1751.5,867.79 L1754.5,867.74 L1757.5,867.69 L1760.5,867.63 L1763.5,867.58 L1766.5,867.53 L1769.5,867.48 L1772.5,867.43 L1775.5,867.38 L1778.5,867.33 L1781.5,867.28 L1784.5,867.23 L1787.5,867.18 L1790.5,867.13 L1793.5,867.08 L1796.5,867.03 L1799.5,866.98 L1802.5,866.93 L1805.5,866.88 L1808.5,866.83 L1811.5,866.78 L1814.5,866.73 L1817.5,866.68 L1820.5,866.63 L1823.5,866.58 L1826.5,866.53 L1829.5,866.48 L1832.5,866.43 L1835.5,866.38 L1838.5,866.33 L1841.5,866.28 L1844.5,866.23 L1847.5,866.18 L1850.5,866.13 L1853.5,866.08 L1856.5,866.03 L1859.5,865.98 L1862.5,865.93 L1865.5,865.88 L1868.5,865.83 L1871.5,865.78 L1874.5,865.73 L1877.5,865.68 L1880.5,865.63 L1883.5,865.58 L1886.5,865.53 L1889.5,865.48 L1892.5,865.43 L1895.5,865.38 L1898.5,865.33 L1901.5,865.28 L1904.5,865.23 L1907.5,865.18 L1910.5,865.13 L1913.5,865.08 L1916.5,865.03 L1919.5,864.98 L1922.5,864.93 L1925.5,864.88 L1928.5,864.83 L1931.5,864.78 L1934.5,864.73 L1937.5,864.68 L1940.5,864.63 L1943.5,864.58 L1946.5,864.53 L1949.5,864.48 L1952.5,864.43 L1955.5,864.38 L1958.5,864.33 L1961.5,864.29 L1964.5,864.24 L1967.5,864.19 L1970.5,864.14 L1973.5,864.09 L1976.5,864.04 L1979.5,864.00 L1982.5,863.95 L1985.5,863.90 L1988.5,863.86 L1991.5,863.81 L1994.5,863.77 L1997.5,863.72 L2000.5,863.67 L2003.5,863.63 L2006.5,863.58 L2009.5,863.54 L2012.5,863.49 L2015.5,863.45 L2018.5,863.41 L2021.5,863.36 L2024.5,863.31 L2027.5,863.27 L2030.5,863.22 L2033.5,863.18 L2036.5,863.13 L2039.5,863.09 L2042.5,863.04 L2045.5,862.99 L2048.5,862.95 L2051.5,862.90 L2054.5,862.85 L2057.5,862.80 L2060.5,862.75 L2063.5,862.70 L2066.5,862.65 L2069.5,862.60 L2072.5,862.55 L2075.5,862.50 L2078.5,862.44 L2081.5,862.39 L2084.5,862.34 L2087.5,862.28 L2090.5,862.23 L2093.5,862.17 L2096.5,862.12 L2099.5,862.06 L2102.5,862.01 L2105.5,861.95 L2108.5,861.89 L2111.5,861.83 L2114.5,861.78 L2117.5,861.72 L2120.5,861.66 L2123.5,861.60 L2126.5,861.54 L2129.5,861.48 L2132.5,861.42 L2135.5,861.36 L2138.5,861.30" fill="none" stroke="#1a6fdf" stroke-width="3.2" stroke-linejoin="round" stroke-linecap="butt"/>
<path d="M221.5,1089.60 L224.5,1090.27 L227.5,1090.96 L230.5,1091.65 L233.5,1092.37 L236.5,1093.09 L239.5,1093.84 L242.5,1094.61 L245.5,1095.39 L248.5,1096.21 L251.5,1097.06 L254.5,1097.94 L257.5,1098.86 L260.5,1099.79 L263.5,1100.73 L266.5,1101.66 L269.5,1102.55 L272.5,1103.40 L275.5,1104.19 L278.5,1104.92 L281.5,1105.58 L284.5,1106.18 L287.5,1106.70 L290.5,1107.16 L293.5,1107.58 L296.5,1107.95 L299.5,1108.30 L302.5,1108.63 L305.5,1108.94 L308.5,1109.25 L311.5,1109.56 L314.5,1109.87 L317.5,1110.19 L320.5,1110.52 L323.5,1110.88 L326.5,1111.26 L329.5,1111.66 L332.5,1112.08 L335.5,1112.51 L338.5,1112.95 L341.5,1113.40 L344.5,1113.86 L347.5,1114.33 L350.5,1114.79 L353.5,1115.26 L356.5,1115.73 L359.5,1116.21 L362.5,1116.69 L365.5,1117.18 L368.5,1117.66 L371.5,1118.16 L374.5,1118.65 L377.5,1119.15 L380.5,1119.64 L383.5,1120.13 L386.5,1120.63 L389.5,1121.11 L392.5,1121.60 L395.5,1122.08 L398.5,1122.56 L401.5,1123.04 L404.5,1123.52 L407.5,1124.00 L410.5,1124.47 L413.5,1124.95 L416.5,1125.42 L419.5,1125.90 L422.5,1126.37 L425.5,1126.84 L428.5,1127.31 L431.5,1127.78 L434.5,1128.24 L437.5,1128.71 L440.5,1129.18 L443.5,1129.64 L446.5,1130.11 L449.5,1130.58 L452.5,1131.05 L455.5,1131.52 L458.5,1131.99 L461.5,1132.46 L464.5,1132.92 L467.5,1133.38 L470.5,1133.84 L473.5,1134.29 L476.5,1134.74 L479.5,1135.18 L482.5,1135.61 L485.5,1136.03 L488.5,1136.44 L491.5,1136.85 L494.5,1137.25 L497.5,1137.64 L500.5,1138.03 L503.5,1138.42 L506.5,1138.80 L509.5,1139.17 L512.5,1139.54 L515.5,1139.91 L518.5,1140.27 L521.5,1140.62 L524.5,1140.96 L527.5,1141.30 L530.5,1141.62 L533.5,1141.94 L536.5,1142.26 L539.5,1142.56 L542.5,1142.85 L545.5,1143.14 L548.5,1143.41 L551.5,1143.68 L554.5,1143.95 L557.5,1144.21 L560.5,1144.46 L563.5,1144.71 L566.5,1144.96 L569.5,1145.21 L572.5,1145.46 L575.5,1145.71 L578.5,1145.96 L581.5,1146.21 L584.5,1146.47 L587.5,1146.73 L590.5,1146.99 L593.5,1147.25 L596.5,1147.50 L599.5,1147.74 L602.5,1147.96 L605.5,1148.18 L608.5,1148.38 L611.5,1148.58 L614.5,1148.77 L617.5,1148.96 L620.5,1149.14 L623.5,1149.31 L626.5,1149.49 L629.5,1149.66 L632.5,1149.83 L635.5,1149.99 L638.5,1150.16 L641.5,1150.32 L644.5,1150.49 L647.5,1150.65 L650.5,1150.82 L653.5,1150.98 L656.5,1151.14 L659.5,1151.30 L662.5,1151.45 L665.5,1151.60 L668.5,1151.75 L671.5,1151.90 L674.5,1152.06 L677.5,1152.21 L680.5,1152.36 L683.5,1152.51 L686.5,1152.67 L689.5,1152.82 L692.5,1152.99 L695.5,1153.15 L698.5,1153.32 L701.5,1153.49 L704.5,1153.66 L707.5,1153.83 L710.5,1154.01 L713.5,1154.19 L716.5,1154.37 L719.5,1154.55 L722.5,1154.74 L725.5,1154.92 L728.5,1155.11 L731.5,1155.29 L734.5,1155.47 L737.5,1155.66 L740.5,1155.84 L743.5,1156.02 L746.5,1156.20 L749.5,1156.37 L752.5,1156.54 L755.5,1156.71 L758.5,1156.88 L761.5,1157.05 L764.5,1157.21 L767.5,1157.38 L770.5,1157.55 L773.5,1157.73 L776.5,1157.90 L779.5,1158.09 L782.5,1158.28 L785.5,1158.48 L788.5,1158.68 L791.5,1158.90 L794.5,1159.12 L797.5,1159.36 L800.5,1159.61 L803.5,1159.87 L806.5,1160.14 L809.5,1160.42 L812.5,1160.71 L815.5,1161.01 L818.5,1161.31 L821.5,1161.63 L824.5,1161.94 L827.5,1162.27 L830.5,1162.60 L833.5,1162.93 L836.5,1163.26 L839.5,1163.60 L842.5,1163.94 L845.5,1164.28 L848.5,1164.63 L851.5,1164.98 L854.5,1165.33 L857.5,1165.70 L860.5,1166.07 L863.5,1166.46 L866.5,1166.85 L869.5,1167.26 L872.5,1167.69 L875.5,1168.13 L878.5,1168.60 L881.5,1169.10 L884.5,1169.63 L887.5,1170.19 L890.5,1170.78 L893.5,1171.39 L896.5,1172.02 L899.5,1172.64 L902.5,1173.26 L905.5,1173.87 L908.5,1174.48 L911.5,1175.08 L914.5,1175.68 L917.5,1176.29 L920.5,1176.90 L923.5,1177.51 L926.5,1178.13 L929.5,1178.75 L932.5,1179.37 L935.5,1180.00 L938.5,1180.63 L941.5,1181.28 L944.5,1181.94 L947.5,1182.64 L950.5,1183.38 L953.5,1184.17 L956.5,1185.01 L959.5,1185.90 L962.5,1186.83 L965.5,1187.80 L968.5,1188.79 L971.5,1189.80 L974.5,1190.82 L977.5,1191.84 L980.5,1192.86 L983.5,1193.90 L986.5,1194.94 L989.5,1196.01 L992.5,1197.10 L995.5,1198.22 L998.5,1199.39 L1001.5,1200.59 L1004.5,1201.85 L1007.5,1203.14 L1010.5,1204.49 L1013.5,1205.87 L1016.5,1207.28 L1019.5,1208.72 L1022.5,1210.19 L1025.5,1211.68 L1028.5,1213.20 L1031.5,1214.74 L1034.5,1216.32 L1037.5,1217.93 L1040.5,1219.57 L1043.5,1221.24 L1046.5,1222.94 L1049.5,1224.66 L1052.5,1226.43 L1055.5,1228.29 L1058.5,1230.29 L1061.5,1232.54 L1064.5,1235.05 L1067.5,1237.76 L1070.5,1240.51 L1073.5,1243.18 L1076.5,1245.69 L1079.5,1248.07 L1082.5,1250.38 L1085.5,1252.67 L1088.5,1255.00 L1091.5,1257.40 L1094.5,1259.89 L1097.5,1262.46 L1100.5,1265.09 L1103.5,1267.77 L1106.5,1270.48 L1109.5,1273.23 L1112.5,1275.98 L1115.5,1278.74 L1118.5,1281.51 L1121.5,1284.28 L1124.5,1287.08 L1127.5,1289.91 L1130.5,1292.81 L1133.5,1295.78 L1136.5,1298.85 L1139.5,1302.02 L1142.5,1305.31 L1145.5,1308.69 L1148.5,1312.12 L1151.5,1315.57 L1154.5,1319.02 L1157.5,1322.44 L1160.5,1325.84 L1163.5,1329.23 L1166.5,1332.63 L1169.5,1336.05 L1172.5,1339.49 L1175.5,1342.95 L1178.5,1346.44 L1181.5,1349.95 L1184.5,1353.47 L1187.5,1357.02 L1190.5,1360.60 L1193.5,1364.19 L1196.5,1367.78 L1199.5,1371.36 L1202.5,1374.91 L1205.5,1378.42 L1208.5,1381.88 L1211.5,1385.30 L1214.5,1388.65 L1217.5,1391.94 L1220.5,1395.15 L1223.5,1398.27 L1226.5,1401.32 L1229.5,1404.28 L1232.5,1407.14 L1235.5,1409.91 L1238.5,1412.57 L1241.5,1415.12 L1244.5,1417.57 L1247.5,1419.94 L1250.5,1422.23 L1253.5,1424.42 L1256.5,1426.47 L1259.5,1428.32 L1262.5,1429.95 L1265.5,1431.36 L1268.5,1432.56 L1271.5,1433.58 L1274.5,1434.45 L1277.5,1435.17 L1280.5,1435.70 L1283.5,1436.03 L1286.5,1436.17 L1289.5,1436.15 L1292.5,1436.00 L1295.5,1435.72 L1298.5,1435.29 L1301.5,1434.65 L1304.5,1433.74 L1307.5,1432.57 L1310.5,1431.19 L1313.5,1429.62 L1316.5,1427.88 L1319.5,1425.97 L1322.5,1423.88 L1325.5,1421.63 L1328.5,1419.20 L1331.5,1416.62 L1334.5,1413.88 L1337.5,1411.02 L1340.5,1408.04 L1343.5,1404.95 L1346.5,1401.73 L1349.5,1398.39 L1352.5,1394.93 L1355.5,1391.35 L1358.5,1387.64 L1361.5,1383.82 L1364.5,1379.90 L1367.5,1375.90 L1370.5,1371.85 L1373.5,1367.73 L1376.5,1363.56 L1379.5,1359.33 L1382.5,1355.03 L1385.5,1350.67 L1388.5,1346.23 L1391.5,1341.75 L1394.5,1337.26 L1397.5,1332.79 L1400.5,1328.37 L1403.5,1324.01 L1406.5,1319.72 L1409.5,1315.52 L1412.5,1311.41 L1415.5,1307.39 L1418.5,1303.41 L1421.5,1299.41 L1424.5,1295.30 L1427.5,1291.08 L1430.5,1286.78 L1433.5,1282.47 L1436.5,1278.21 L1439.5,1274.05 L1442.5,1269.99 L1445.5,1266.05 L1448.5,1262.26 L1451.5,1258.63 L1454.5,1255.18 L1457.5,1251.89 L1460.5,1248.75 L1463.5,1245.72 L1466.5,1242.78 L1469.5,1239.93 L1472.5,1237.14 L1475.5,1234.43 L1478.5,1231.79 L1481.5,1229.22 L1484.5,1226.72 L1487.5,1224.29 L1490.5,1221.91 L1493.5,1219.61 L1496.5,1217.37 L1499.5,1215.19 L1502.5,1213.08 L1505.5,1211.03 L1508.5,1209.05 L1511.5,1207.14 L1514.5,1205.29 L1517.5,1203.52 L1520.5,1201.82 L1523.5,1200.20 L1526.5,1198.68 L1529.5,1197.22 L1532.5,1195.83 L1535.5,1194.47 L1538.5,1193.13 L1541.5,1191.78 L1544.5,1190.41 L1547.5,1189.05 L1550.5,1187.72 L1553.5,1186.43 L1556.5,1185.20 L1559.5,1184.06 L1562.5,1183.01 L1565.5,1182.04 L1568.5,1181.13 L1571.5,1180.28 L1574.5,1179.47 L1577.5,1178.70 L1580.5,1177.96 L1583.5,1177.25 L1586.5,1176.57 L1589.5,1175.91 L1592.5,1175.29 L1595.5,1174.68 L1598.5,1174.10 L1601.5,1173.54 L1604.5,1173.01 L1607.5,1172.49 L1610.5,1171.99 L1613.5,1171.51 L1616.5,1171.05 L1619.5,1170.61 L1622.5,1170.20 L1625.5,1169.81 L1628.5,1169.44 L1631.5,1169.09 L1634.5,1168.76 L1637.5,1168.45 L1640.5,1168.16 L1643.5,1167.88 L1646.5,1167.63 L1649.5,1167.39 L1652.5,1167.17 L1655.5,1166.96 L1658.5,1166.76 L1661.5,1166.57 L1664.5,1166.39 L1667.5,1166.22 L1670.5,1166.05 L1673.5,1165.89 L1676.5,1165.73 L1679.5,1165.57 L1682.5,1165.42 L1685.5,1165.27 L1688.5,1165.12 L1691.5,1164.98 L1694.5,1164.84 L1697.5,1164.70 L1700.5,1164.56 L1703.5,1164.43 L1706.5,1164.30 L1709.5,1164.17 L1712.5,1164.05 L1715.5,1163.92 L1718.5,1163.80 L1721.5,1163.68 L1724.5,1163.55 L1727.5,1163.43 L1730.5,1163.31 L1733.5,1163.18 L1736.5,1163.06 L1739.5,1162.94 L1742.5,1162.82 L1745.5,1162.70 L1748.5,1162.58 L1751.5,1162.47 L1754.5,1162.35 L1757.5,1162.23 L1760.5,1162.12 L1763.5,1162.00 L1766.5,1161.88 L1769.5,1161.77 L1772.5,1161.65 L1775.5,1161.53 L1778.5,1161.41 L1781.5,1161.29 L1784.5,1161.17 L1787.5,1161.05 L1790.5,1160.92 L1793.5,1160.80 L1796.5,1160.67 L1799.5,1160.55 L1802.5,1160.42 L1805.5,1160.30 L1808.5,1160.17 L1811.5,1160.05 L1814.5,1159.92 L1817.5,1159.80 L1820.5,1159.67 L1823.5,1159.55 L1826.5,1159.43 L1829.5,1159.31 L1832.5,1159.18 L1835.5,1159.06 L1838.5,1158.94 L1841.5,1158.82 L1844.5,1158.70 L1847.5,1158.59 L1850.5,1158.47 L1853.5,1158.35 L1856.5,1158.23 L1859.5,1158.11 L1862.5,1158.00 L1865.5,1157.88 L1868.5,1157.76 L1871.5,1157.65 L1874.5,1157.53 L1877.5,1157.41 L1880.5,1157.30 L1883.5,1157.18 L1886.5,1157.07 L1889.5,1156.96 L1892.5,1156.85 L1895.5,1156.74 L1898.5,1156.63 L1901.5,1156.53 L1904.5,1156.42 L1907.5,1156.31 L1910.5,1156.20 L1913.5,1156.09 L1916.5,1155.98 L1919.5,1155.86 L1922.5,1155.74 L1925.5,1155.62 L1928.5,1155.50 L1931.5,1155.37 L1934.5,1155.24 L1937.5,1155.11 L1940.5,1154.97 L1943.5,1154.82 L1946.5,1154.66 L1949.5,1154.50 L1952.5,1154.33 L1955.5,1154.16 L1958.5,1153.98 L1961.5,1153.79 L1964.5,1153.61 L1967.5,1153.42 L1970.5,1153.23 L1973.5,1153.04 L1976.5,1152.86 L1979.5,1152.68 L1982.5,1152.50 L1985.5,1152.32 L1988.5,1152.15 L1991.5,1151.99 L1994.5,1151.83 L1997.5,1151.68 L2000.5,1151.53 L2003.5,1151.38 L2006.5,1151.24 L2009.5,1151.09 L2012.5,1150.95 L2015.5,1150.81 L2018.5,1150.67 L2021.5,1150.54 L2024.5,1150.40 L2027.5,1150.27 L2030.5,1150.13 L2033.5,1150.00 L2036.5,1149.87 L2039.5,1149.74 L2042.5,1149.61 L2045.5,1149.48 L2048.5,1149.35 L2051.5,1149.23 L2054.5,1149.10 L2057.5,1148.97 L2060.5,1148.84 L2063.5,1148.72 L2066.5,1148.59 L2069.5,1148.46 L2072.5,1148.33 L2075.5,1148.21 L2078.5,1148.08 L2081.5,1147.95 L2084.5,1147.82 L2087.5,1147.69 L2090.5,1147.56 L2093.5,1147.43 L2096.5,1147.30 L2099.5,1147.17 L2102.5,1147.04 L2105.5,1146.91 L2108.5,1146.78 L2111.5,1146.65 L2114.5,1146.52 L2117.5,1146.39 L2120.5,1146.27 L2123.5,1146.14 L2126.5,1146.01 L2129.5,1145.88 L2132.5,1145.75 L2135.5,1145.63 L2138.5,1145.50" fill="none" stroke="#37ad6b" stroke-width="3.2" stroke-linejoin="round" stroke-linecap="butt"/>
<text class="tick" x="221.0" y="1708.5">-20</text>
<text class="tick" x="604.4" y="1708.5">0</text>
<text class="tick" x="987.8" y="1708.5">20</text>
<text class="tick" x="1371.2" y="1708.5">40</text>
<text class="tick" x="1754.6" y="1708.5">60</text>
<text class="tick" x="2138.0" y="1708.5">80</text>
<text class="axis" x="1180.0" y="1861">Temperature (°C)</text>
<text class="axis" transform="translate(95.4,763.2) rotate(-90)">Heat flow (Exo down)</text>
<text class="lab" x="1499.4" y="317.4">PEPS</text>
<text class="lab" x="1494.4" y="577.4">PEPS/CNC0.25</text>
<text class="lab" x="1502.2" y="852.4">PEPS/CNC0.5</text>
<text class="lab" x="1512.2" y="1144.4">PEPS/CNC1</text>
<text class="scale" x="394" y="1452.9">0.5 W/g</text>
</svg>
</body>
</html>
